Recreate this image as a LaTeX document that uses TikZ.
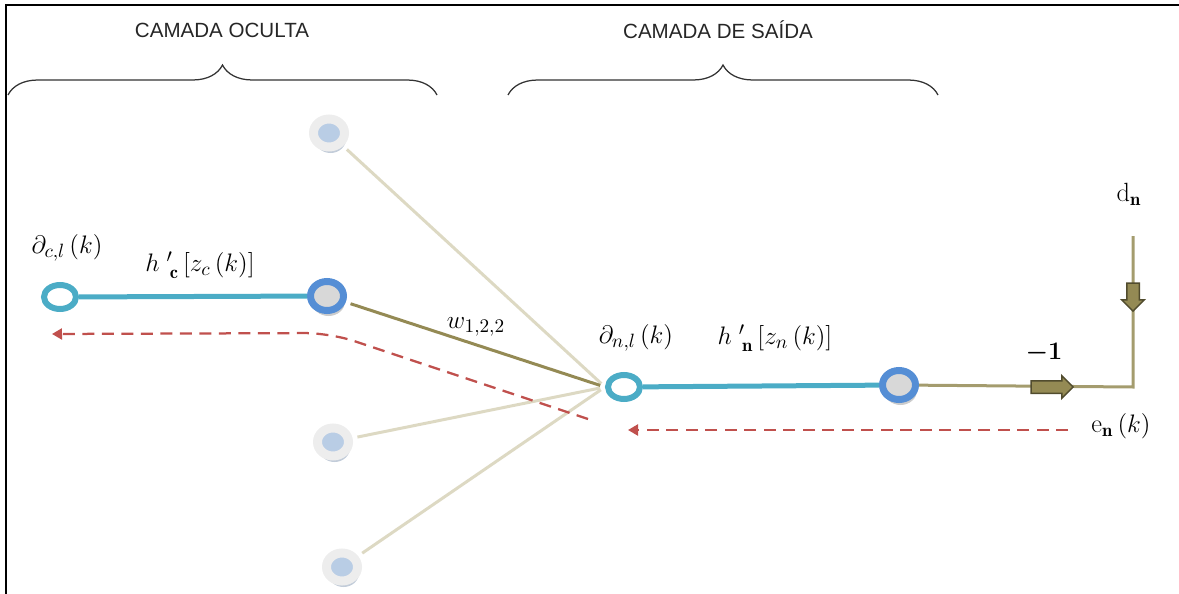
\documentclass[tikz,border=0pt]{standalone}
\usepackage{amsmath}
\usepackage{fontspec}
\newfontfamily\layerfont{Liberation Sans}
\usepackage{tikz}
\usetikzlibrary{arrows.meta, shapes.geometric, shapes.arrows, decorations.pathreplacing, shadows}
\definecolor{colAxon}{RGB}{75,172,198}
\definecolor{colRing}{RGB}{85,142,213}
\definecolor{colCore}{RGB}{216,216,216}
\definecolor{colWeight}{RGB}{148,138,84}
\definecolor{colWeightPale}{RGB}{221,217,195}
\definecolor{colErr}{RGB}{192,80,77}
\definecolor{colPale}{RGB}{185,205,229}
\tikzset{
	openunit/.style={ellipse, draw=colAxon, line width=1.2mm, fill=white, minimum width=6.4mm, minimum height=4.8mm, inner sep=0pt},
	hidunit/.style={ellipse, draw=colRing, line width=1.4mm, fill=colCore, minimum width=6.6mm, minimum height=5.8mm, inner sep=0pt,
		drop shadow={shadow xshift=0.3mm, shadow yshift=-1.1mm, fill=black!40, opacity=0.5}},
	paleunit/.style={ellipse, draw=black!7, line width=1.8mm, fill=colPale, minimum width=6.2mm, minimum height=5.6mm, inner sep=0pt,
		drop shadow={shadow xshift=0.3mm, shadow yshift=-1.2mm, fill=colRing!60!black!50, opacity=0.6}},
	mathlbl/.style={font=\fontsize{15}{17}\selectfont, inner sep=0pt},
	layertitle/.style={font=\layerfont\fontsize{11.7}{13}\selectfont, text=black!85},
	layerbrace/.style={decorate, decoration={brace, amplitude=6mm}, line width=0.25mm, black!80},
}

\begin{document}
\begin{tikzpicture}[
		x=0.2mm, y=-0.2mm,
		axon/.style={colAxon, line width=1mm},
		weight/.style={colWeightPale, line width=0.6mm, shorten <=1mm, shorten >=1mm},
		outline/.style={colWeight!85!white, line width=0.6mm},
		errflow/.style={colErr, line width=0.45mm, dash pattern=on 2.4mm off 1.5mm, -{Triangle[length=2mm, width=2.2mm]}},
		blockarrow/.style={single arrow, draw=colWeight!55!black, fill=colWeight, line width=0.3mm, minimum height=8.4mm, inner xsep=0pt, inner ysep=1.1mm, single arrow head extend=1mm}
	]
		\useasboundingbox (0,0) rectangle (1179,594);
		% frame
		\draw[line width=0.45mm] (6,594) -- (6,5) -- (1179,5);

		% layer titles
		\node[layertitle] (hidTitle) at (222,30) {CAMADA OCULTA};
		\node[layertitle] (outTitle) at (718,30) {CAMADA DE SAÍDA};
		\draw[layerbrace] (8,95) -- (437,95);
		\draw[layerbrace] (508,95) -- (938,95);

		% hidden layer
		\node[openunit] (cl) at (60,297) {};
		\node[hidunit] (hid2) at (327,296) {};
		\node[paleunit] (hid1) at (329,133) {};
		\node[paleunit] (hid3) at (333,442) {};
		\node[paleunit] (hid4) at (342,567) {};
		\draw[axon] (cl) -- (hid2);
		\node[mathlbl] (clLbl) at (67,248) {$\partial_{c,l}\,(k)$};
		\node[mathlbl] (hcLbl) at (200,265) {$h\;'_{\,\mathbf{c}}\,[z_c\,(k)]$};

		% output layer
		\node[openunit] (nl) at (624,387) {};
		\node[hidunit] (outN) at (899,385) {};
		\draw[axon] (nl) -- (outN);
		\node[mathlbl] (nlLbl) at (636,338) {$\partial_{n,l}\,(k)$};
		\node[mathlbl] (hnLbl) at (775,338) {$h\;'_{\,\mathbf{n}}\,[z_n\,(k)]$};

		% weights
		\draw[weight] (hid1) -- (nl.west);
		\draw[weight] (hid3) -- (nl.west);
		\draw[weight] (hid4) -- (nl.west);
		\draw[weight, colWeight] (hid2) -- (nl.west);
		\node[mathlbl] (wLbl) at (476,327) {$w_{1,2,2}$};

		% desired output and error
		\node[mathlbl] (dn) at (1129,194) {$\mathrm{d}_{\mathbf{n}}$};
		\coordinate (corner) at (1133,387);
		\coordinate (dnFoot) at (1133,236);
		\draw[outline] (outN) -- (corner) -- (dnFoot);
		\node[blockarrow] (gainArr) at (1049,387) {};
		\node[blockarrow, rotate=-90, minimum height=5.6mm] (dnArr) at (1133,294) {};
		\node[mathlbl] (gain) at (1044,353) {$\boldsymbol{-1}$};
		\node[mathlbl] (en) at (1121,426) {$\mathrm{e}_{\mathbf{n}}\,(k)$};

		% back-propagated error
		\coordinate (enTail) at (1068,430);
		\coordinate (enTip) at (628,430);
		\draw[errflow] (enTail) -- (enTip);
		\coordinate (bpTail) at (588,419);
		\coordinate (bpBend) at (330,333);
		\coordinate (bpTip) at (52,334);
		\draw[errflow, rounded corners=5mm] (bpTail) -- (bpBend) -- (bpTip);
	\end{tikzpicture}
\end{document}
